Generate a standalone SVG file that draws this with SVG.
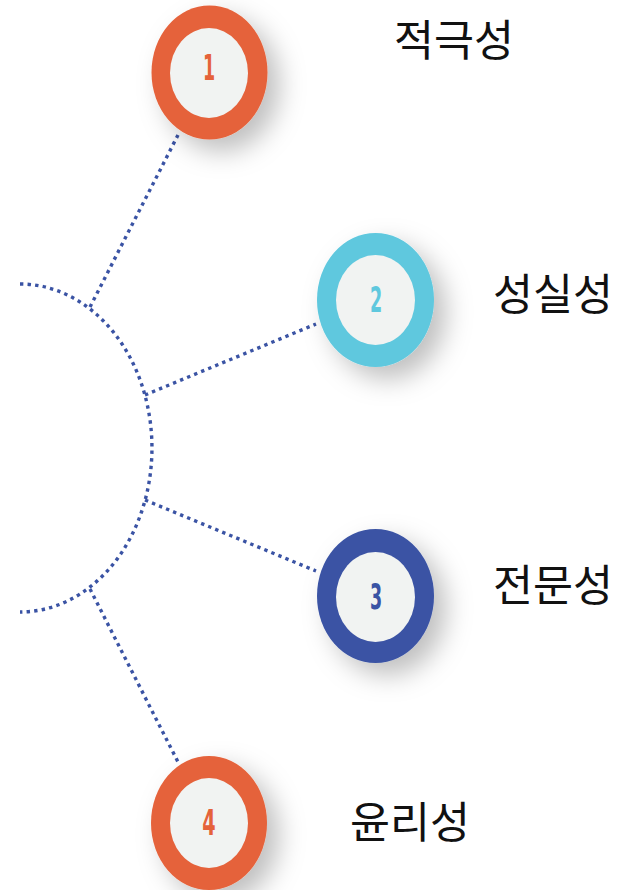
<svg xmlns="http://www.w3.org/2000/svg" width="618" height="890" viewBox="0 0 618 890">
<defs>
<filter id="sh" x="-50%" y="-50%" width="220%" height="220%">
<feDropShadow dx="12" dy="12" stdDeviation="13" flood-color="#000" flood-opacity="0.25"/>
</filter>
<style>
.dot{fill:none;stroke:#3A53A4;stroke-width:3.4;stroke-dasharray:3.4 4.2}
.inner{fill:#F1F3F2}
.num{font-family:"DejaVu Sans",sans-serif;font-weight:bold;font-size:35px;text-anchor:middle}
.lbl{font-family:"Noto Sans CJK KR",sans-serif;font-size:43.5px;fill:#111}
</style>
</defs>
<rect width="618" height="890" fill="#fff"/>
<g id="connectors">
<path class="dot" d="M20,284 A132,164 0 0 1 20,612"/>
<line class="dot" x1="90" y1="307" x2="178" y2="135"/>
<line class="dot" x1="145" y1="395" x2="316" y2="324"/>
<line class="dot" x1="145" y1="500" x2="316" y2="571"/>
<line class="dot" x1="90" y1="589" x2="178" y2="762"/>
</g>
<g id="node1">
<ellipse cx="209.5" cy="72.5" rx="58" ry="67" fill="#E5623A" filter="url(#sh)"/>
<ellipse class="inner" cx="209" cy="73" rx="39" ry="45"/>
<text class="num" x="209" y="80" fill="#E5623A" transform="translate(209 0) scale(0.5 1) translate(-209 0)">1</text>
</g>
<g id="node2">
<ellipse cx="375.5" cy="300" rx="58.5" ry="67" fill="#5FC8DE" filter="url(#sh)"/>
<ellipse class="inner" cx="375.5" cy="300" rx="39.5" ry="45"/>
<text class="num" x="376" y="312" fill="#5FC8DE" transform="translate(376 0) scale(0.5 1) translate(-376 0)">2</text>
</g>
<g id="node3">
<ellipse cx="375.5" cy="596" rx="58.5" ry="67" fill="#3A53A4" filter="url(#sh)"/>
<ellipse class="inner" cx="375.5" cy="597" rx="39.5" ry="45"/>
<text class="num" x="376" y="609" fill="#3A53A4" transform="translate(376 0) scale(0.5 1) translate(-376 0)">3</text>
</g>
<g id="node4">
<ellipse cx="209" cy="823" rx="58" ry="67" fill="#E5623A" filter="url(#sh)"/>
<ellipse class="inner" cx="209" cy="823" rx="39" ry="45"/>
<text class="num" x="209" y="835" fill="#E5623A" transform="translate(209 0) scale(0.55 1) translate(-209 0)">4</text>
</g>
<g id="labels">
<text class="lbl" x="394" y="56">적극성</text>
<text class="lbl" x="493" y="310">성실성</text>
<text class="lbl" x="493" y="601">전문성</text>
<text class="lbl" x="350" y="838">윤리성</text>
</g>
</svg>
